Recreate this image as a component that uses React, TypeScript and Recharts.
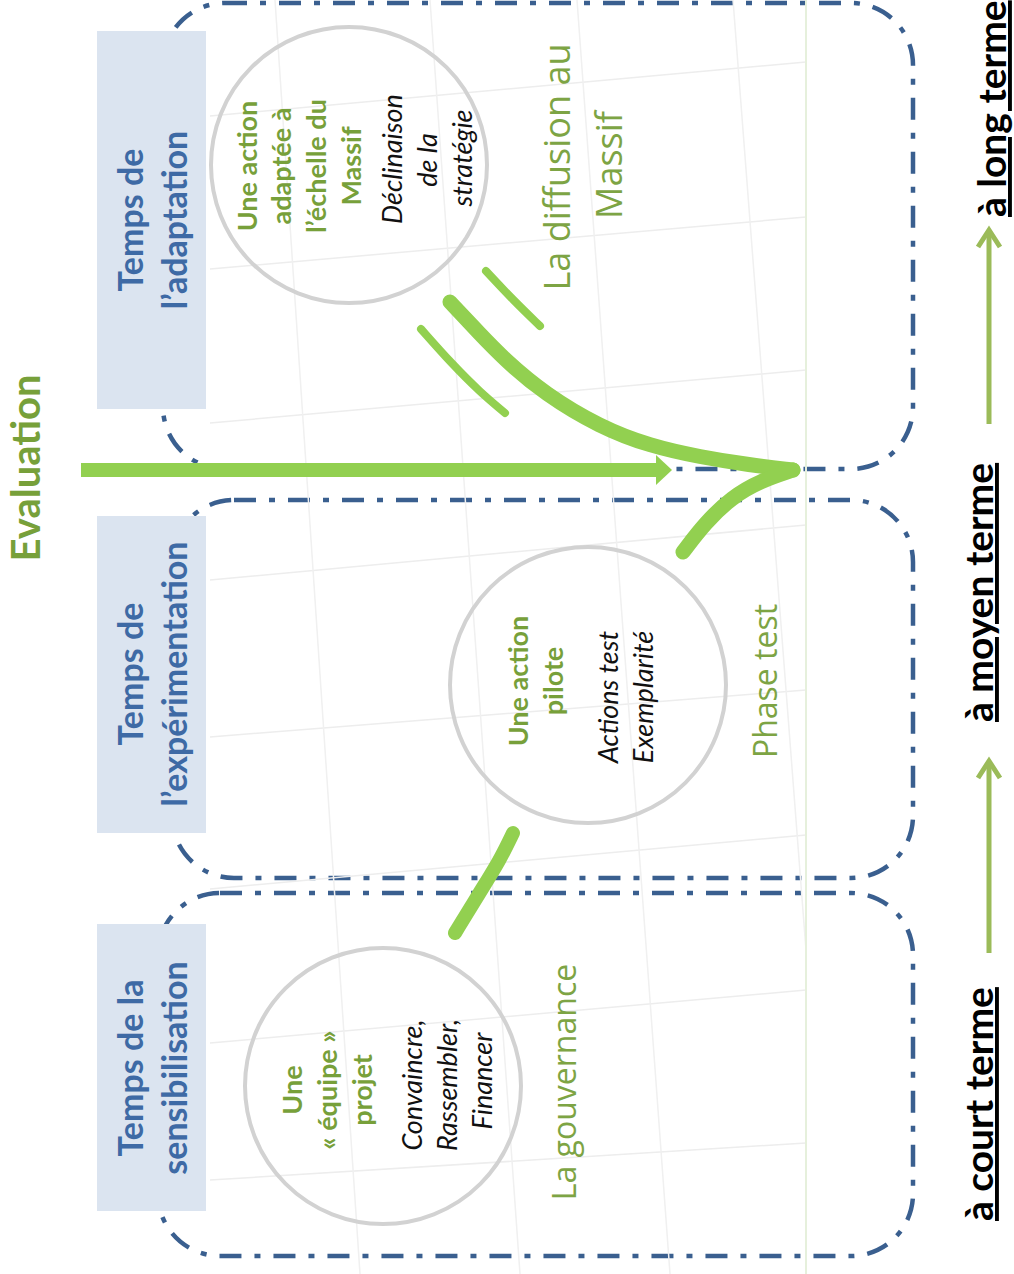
import React from "react";
import {
  ComposedChart,
  XAxis,
  YAxis,
  Line,
  Scatter,
  ReferenceArea,
} from "recharts";

// diagram space: x 0..1014 (left → right), y 0..1274 (top → bottom)
const W = 1014;
const H = 1274;

const phaseFrames = [
  { x1: 163, x2: 913, y1: 3, y2: 469 },
  { x1: 172, x2: 913, y1: 500, y2: 878 },
  { x1: 158, x2: 913, y1: 893, y2: 1256 },
];

const titleBoxes = [
  { x1: 97, x2: 206, y1: 31, y2: 409 },
  { x1: 97, x2: 206, y1: 516, y2: 833 },
  { x1: 97, x2: 206, y1: 924, y2: 1211 },
];

const titleLines = [
  { x: 143, y: 220, text: "Temps de" },
  { x: 187, y: 220, text: "l’adaptation" },
  { x: 143, y: 674, text: "Temps de" },
  { x: 187, y: 674, text: "l’expérimentation" },
  { x: 143, y: 1068, text: "Temps de la" },
  { x: 187, y: 1068, text: "sensibilisation" },
];

const circleCenters = [
  { x: 349, y: 165 },
  { x: 588, y: 685 },
  { x: 383, y: 1086 },
];

const circleHeads = [
  { x: 257, y: 166, text: "Une action" },
  { x: 291, y: 166, text: "adaptée à" },
  { x: 326, y: 166, text: "l’échelle du" },
  { x: 361, y: 166, text: "Massif" },
  { x: 528, y: 681, text: "Une action" },
  { x: 563, y: 681, text: "pilote" },
  { x: 302, y: 1090, text: "Une" },
  { x: 337, y: 1090, text: "« équipe »" },
  { x: 372, y: 1090, text: "projet" },
];

const circleNotes = [
  { x: 402, y: 159, text: "Déclinaison" },
  { x: 437, y: 160, text: "de la" },
  { x: 472, y: 158, text: "stratégie" },
  { x: 618, y: 697, text: "Actions test" },
  { x: 653, y: 697, text: "Exemplarité" },
  { x: 422, y: 1085, text: "Convaincre," },
  { x: 457, y: 1085, text: "Rassembler," },
  { x: 492, y: 1081, text: "Financer" },
];

const diffusionLines = [
  { x: 570, y: 167, text: "La diffusion au" },
  { x: 622, y: 165, text: "Massif" },
];

const phaseNames = [
  { x: 777, y: 681, text: "Phase test" },
  { x: 576, y: 1082, text: "La gouvernance" },
];

const horizonLabels = [
  { x: 1006, y: 217, text: "à long terme" },
  { x: 993, y: 722, text: "à moyen terme" },
  { x: 993, y: 1221, text: "à court terme" },
];

const evaluationLabel = [{ x: 40, y: 468, text: "Evaluation" }];

// evaluation arrow
const evaluationShaft = [
  { x: 81, y: 470 },
  { x: 658, y: 470 },
];
const evaluationHead = [{ x: 662, y: 470 }];

// green swooshes
const swooshUpper = [
  { x: 450, y: 302 },
  { x: 478, y: 332 },
  { x: 505, y: 360 },
  { x: 545, y: 394 },
  { x: 600, y: 427 },
  { x: 650, y: 446 },
  { x: 700, y: 457 },
  { x: 750, y: 465 },
  { x: 793, y: 470 },
];
const swooshLower = [
  { x: 683, y: 552 },
  { x: 705, y: 523 },
  { x: 732, y: 497 },
  { x: 760, y: 481 },
  { x: 793, y: 470 },
];
const bridgeLow = [
  { x: 455, y: 933 },
  { x: 480, y: 892 },
  { x: 500, y: 860 },
  { x: 513, y: 833 },
];
const thinArcA = [
  { x: 421, y: 329 },
  { x: 452, y: 364 },
  { x: 480, y: 392 },
  { x: 505, y: 413 },
];
const thinArcB = [
  { x: 486, y: 271 },
  { x: 514, y: 301 },
  { x: 540, y: 326 },
];

// horizon arrows
const horizonShaftLow = [
  { x: 989, y: 953 },
  { x: 989, y: 765 },
];
const horizonHeadLow = [
  { x: 978, y: 778 },
  { x: 989, y: 761 },
  { x: 1000, y: 778 },
];
const horizonShaftHigh = [
  { x: 989, y: 424 },
  { x: 989, y: 234 },
];
const horizonHeadHigh = [
  { x: 978, y: 247 },
  { x: 989, y: 230 },
  { x: 1000, y: 247 },
];

// faint background grid
const gridRows = [
  [{ x: 210, y: 116 }, { x: 806, y: 62 }],
  [{ x: 210, y: 269 }, { x: 806, y: 217 }],
  [{ x: 210, y: 423 }, { x: 806, y: 370 }],
  [{ x: 210, y: 580 }, { x: 806, y: 525 }],
  [{ x: 210, y: 737 }, { x: 806, y: 690 }],
  [{ x: 210, y: 889 }, { x: 806, y: 835 }],
  [{ x: 210, y: 1043 }, { x: 806, y: 990 }],
  [{ x: 210, y: 1180 }, { x: 806, y: 1143 }],
];
const gridCols = [
  [{ x: 275, y: 0 }, { x: 360, y: 1274 }],
  [{ x: 430, y: 0 }, { x: 520, y: 1274 }],
  [{ x: 577, y: 0 }, { x: 670, y: 1274 }],
  [{ x: 733, y: 0 }, { x: 806, y: 950 }],
];
const edgeLine = [
  { x: 806, y: 0 },
  { x: 806, y: 1274 },
];

const BLUE = "#3A5F8F";
const GREEN = "#92D050";
const OLIVE = "#77A03A";

const FrameShape = (p: any) => (
  <rect
    x={p.x}
    y={p.y}
    width={p.width}
    height={p.height}
    rx={62}
    ry={62}
    fill="none"
    stroke={BLUE}
    strokeWidth={4.5}
    strokeDasharray="22 13 6 13"
  />
);

const CircleShape = (p: any) => (
  <circle cx={p.cx} cy={p.cy} r={138} fill="none" stroke="#D2D2D2" strokeWidth={4} />
);

const ArrowHeadShape = (p: any) => (
  <polygon
    points={`${p.cx - 6},${p.cy - 15} ${p.cx + 10},${p.cy} ${p.cx - 6},${p.cy + 15}`}
    fill={GREEN}
  />
);

const textShape =
  (style: React.SVGProps<SVGTextElement>, anchor: "start" | "middle" = "middle") =>
  (p: any) => (
    <text
      x={p.cx}
      y={p.cy}
      transform={`rotate(-90 ${p.cx} ${p.cy})`}
      textAnchor={anchor}
      {...style}
    >
      {p.payload.text}
    </text>
  );

const titleStyle = { fill: "#3E6AA5", fontFamily: "Lato", fontWeight: 700, fontSize: 34 };
const headStyle = { fill: OLIVE, fontFamily: "Lato", fontWeight: 700, fontSize: 27 };
const noteStyle = { fill: "#111", fontFamily: "Lato", fontStyle: "italic", fontSize: 27 };
const diffusionStyle = { fill: "#7DA444", fontFamily: "Open Sans", fontSize: 36 };
const phaseStyle = { fill: "#7DA444", fontFamily: "Open Sans", fontSize: 32 };
const horizonStyle = {
  fill: "#000",
  fontFamily: "Lato",
  fontWeight: 700,
  fontSize: 39,
  textDecoration: "underline",
};
const evalStyle = { fill: OLIVE, fontFamily: "Lato", fontWeight: 700, fontSize: 40 };

const plain = { dot: false, activeDot: false, isAnimationActive: false, legendType: "none" as const };

export default function App() {
  return (
    <div style={{ position: "absolute", left: 0, top: 0, background: "#fff" }}>
      <ComposedChart width={W} height={H} margin={{ top: 0, right: 0, bottom: 0, left: 0 }}>
        <XAxis type="number" dataKey="x" domain={[0, W]} allowDataOverflow hide />
        <YAxis type="number" dataKey="y" domain={[0, H]} allowDataOverflow reversed hide />

        {phaseFrames.map((f, i) => (
          <ReferenceArea key={`f${i}`} {...f} shape={FrameShape} />
        ))}
        {titleBoxes.map((b, i) => (
          <ReferenceArea key={`b${i}`} {...b} fill="#DBE4F0" fillOpacity={1} stroke="none" />
        ))}

        {gridRows.map((g, i) => (
          <Line key={`gr${i}`} data={g} dataKey="y" type="linear" stroke="#EDEDED" strokeWidth={1.5} {...plain} />
        ))}
        {gridCols.map((g, i) => (
          <Line key={`gc${i}`} data={g} dataKey="y" type="linear" stroke="#F0F0F0" strokeWidth={1.5} {...plain} />
        ))}
        <Line data={edgeLine} dataKey="y" type="linear" stroke="#E6F0DC" strokeWidth={2} {...plain} />

        <Line data={evaluationShaft} dataKey="y" type="linear" stroke={GREEN} strokeWidth={14} {...plain} />
        <Line data={swooshUpper} dataKey="y" type="basis" stroke={GREEN} strokeWidth={15} strokeLinecap="round" {...plain} />
        <Line data={swooshLower} dataKey="y" type="basis" stroke={GREEN} strokeWidth={15} strokeLinecap="round" {...plain} />
        <Line data={bridgeLow} dataKey="y" type="basis" stroke={GREEN} strokeWidth={14} strokeLinecap="round" {...plain} />
        <Line data={thinArcA} dataKey="y" type="basis" stroke={GREEN} strokeWidth={8} strokeLinecap="round" {...plain} />
        <Line data={thinArcB} dataKey="y" type="basis" stroke={GREEN} strokeWidth={8} strokeLinecap="round" {...plain} />

        <Line data={horizonShaftLow} dataKey="y" type="linear" stroke="#9BBB59" strokeWidth={5} {...plain} />
        <Line data={horizonHeadLow} dataKey="y" type="linear" stroke="#9BBB59" strokeWidth={5} {...plain} />
        <Line data={horizonShaftHigh} dataKey="y" type="linear" stroke="#9BBB59" strokeWidth={5} {...plain} />
        <Line data={horizonHeadHigh} dataKey="y" type="linear" stroke="#9BBB59" strokeWidth={5} {...plain} />

        <Scatter data={evaluationHead} shape={ArrowHeadShape} isAnimationActive={false} />
        <Scatter data={circleCenters} shape={CircleShape} isAnimationActive={false} />

        <Scatter data={titleLines} shape={textShape(titleStyle)} isAnimationActive={false} />
        <Scatter data={circleHeads} shape={textShape(headStyle)} isAnimationActive={false} />
        <Scatter data={circleNotes} shape={textShape(noteStyle)} isAnimationActive={false} />
        <Scatter data={diffusionLines} shape={textShape(diffusionStyle)} isAnimationActive={false} />
        <Scatter data={phaseNames} shape={textShape(phaseStyle)} isAnimationActive={false} />
        <Scatter data={horizonLabels} shape={textShape(horizonStyle, "start")} isAnimationActive={false} />
        <Scatter data={evaluationLabel} shape={textShape(evalStyle)} isAnimationActive={false} />
      </ComposedChart>
    </div>
  );
}
